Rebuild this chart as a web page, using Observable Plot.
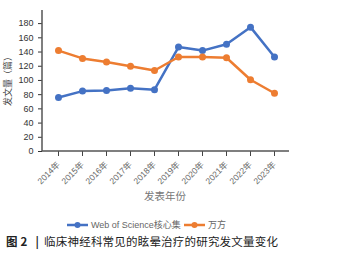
<!DOCTYPE html>
<html><head><meta charset="utf-8">
<script src="https://cdn.jsdelivr.net/npm/d3@7"></script>
<script src="https://cdn.jsdelivr.net/npm/@observablehq/plot@0.6"></script>
<style>
body{margin:0;background:#fff;font-family:"Liberation Sans","Noto Sans CJK SC",sans-serif;}
#wrap{position:relative;width:353px;height:255px;}
#legend{position:absolute;top:218px;left:67px;display:flex;align-items:center;font-size:9px;color:#666;gap:3px;}
.li{display:flex;align-items:center;gap:3px}
#caption{position:absolute;top:233px;left:6px;font-size:11.5px;color:#222;font-family:"Noto Sans CJK SC",sans-serif;white-space:nowrap;letter-spacing:0.2px}
</style></head>
<body><div id="wrap"><div id="chart"></div><div id="legend"></div><div id="caption"><b>图 2</b><span style="font-weight:bold;margin:0 5px 0 8px">|</span>临床神经科常见的眩晕治疗的研究发文量变化</div></div>
<script>
const years = ["2014年","2015年","2016年","2017年","2018年","2019年","2020年","2021年","2022年","2023年"];
const wosValues = [76,85,86,89,87,147,142,151,175,133];
const wanfangValues = [142,131,126,120,114,133,133,132,101,82];
const seriesNames = ["Web of Science核心集","万方"];
const seriesColors = ["#4472C4","#ED7D31"];
const yTicks = [0,20,40,60,80,100,120,140,160,180];

const data = [];
years.forEach((y,i)=>{
  data.push({year:y, value:wosValues[i], series:seriesNames[0]});
  data.push({year:y, value:wanfangValues[i], series:seriesNames[1]});
});

const chart = Plot.plot({
  width:353, height:210,
  marginLeft:42, marginRight:64, marginTop:16, marginBottom:59,
  style:{fontFamily:'"Liberation Sans","Noto Sans CJK SC",sans-serif', fontSize:"9px", color:"#333"},
  x:{type:"point", domain:years, padding:0.5},
  y:{domain:[0,190], range:[151,16]},
  color:{domain:seriesNames, range:seriesColors},
  marks:[
    Plot.axisY({ticks:yTicks, tickSize:4, label:null, fontSize:9, color:"#333"}),
    Plot.axisX({tickRotate:-45, tickSize:5, label:null, fontSize:8.5, color:"#666", stroke:"#444"}),
    Plot.line(data,{x:"year", y:"value", stroke:"series", strokeWidth:2.5}),
    Plot.dot(data,{x:"year", y:"value", fill:"series", r:3.5})
  ]
});
document.getElementById("chart").appendChild(chart);

const svg = d3.select(chart);
svg.append("line").attr("x1",42).attr("x2",289).attr("y1",151).attr("y2",151).attr("stroke","#555").attr("stroke-width",1.5);
svg.append("line").attr("x1",42).attr("x2",42).attr("y1",10).attr("y2",151).attr("stroke","#555").attr("stroke-width",1.5);
svg.append("text").attr("transform","translate(11,79) rotate(-90)").attr("text-anchor","middle")
  .attr("font-size",9).attr("fill","#444").attr("font-family",'"Noto Sans CJK SC",sans-serif').text("发文量（篇）");
svg.append("text").attr("x",165).attr("y",200).attr("text-anchor","middle")
  .attr("font-size",10.5).attr("fill","#777").attr("font-family",'"Noto Sans CJK SC",sans-serif').text("发表年份");

const leg = document.getElementById("legend");
seriesNames.forEach((n,i)=>{
  const d = document.createElement("div"); d.className="li";
  d.innerHTML = `<svg width="21" height="8"><line x1="0" x2="21" y1="4" y2="4" stroke="${seriesColors[i]}" stroke-width="2.5"/><circle cx="10.5" cy="4" r="3" fill="${seriesColors[i]}"/></svg><span>${n}</span>`;
  leg.appendChild(d);
});
</script></body></html>
